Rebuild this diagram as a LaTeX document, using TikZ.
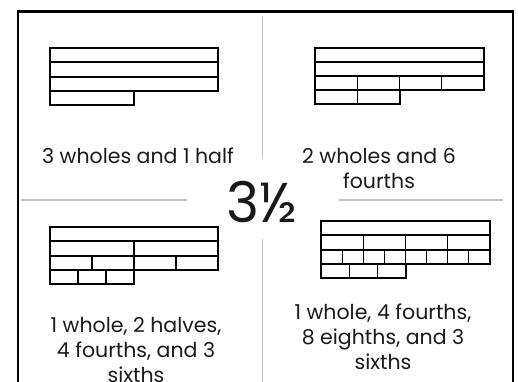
\documentclass[tikz,border=0pt]{standalone}
\usepackage{fontspec}
\setmainfont{Poppins}
\definecolor{txt}{HTML}{1A1A1A}
\definecolor{sep}{HTML}{C4C4C4}
\tikzset{
  barthick/.style={draw=black,line width=2pt},
  barthin/.style={draw=black,line width=1.2pt},
  sepline/.style={draw=sep,line width=1.4pt},
  frameline/.style={draw=black,line width=2.4pt},
  label/.style={inner sep=0pt,align=center,text=txt,font=\fontsize{20.5}{25}\selectfont},
}
% #1 x0, #2 ytop, #3 total width, #4 height, #5 parts, #6 cells drawn
\newcommand\fbrow[6]{%
  \pgfmathsetmacro\fbcw{#3/#5}%
  \foreach \fbi in {1,...,#6}{%
    \draw[barthin] ({#1+(\fbi-1)*\fbcw},#2) rectangle ++(\fbcw,#4);
  }%
  \draw[barthick] (#1,#2) rectangle ++({\fbcw*#6},#4);
}
\begin{document}
\begin{tikzpicture}[x=1pt,y=-1pt]
\useasboundingbox (0,0) rectangle (518,381);
\clip (0,0) rectangle (518,381);
% frame
\draw[frameline] (18,400) -- (18,11.5) -- (513,11.5) -- (513,400);
% separators
\draw[sepline] (262.5,16) -- (262.5,159);
\draw[sepline] (262.5,239) -- (262.5,400);
\draw[sepline] (21,200) -- (187,200);
\draw[sepline] (339,200) -- (503,200);
% top-left: 3 wholes and 1 half
\fbrow{50}{48}{168}{14.25}{1}{1}
\fbrow{50}{62.25}{168}{14.25}{1}{1}
\fbrow{50}{76.5}{168}{14.25}{1}{1}
\fbrow{50}{90.75}{168}{14.25}{2}{1}
% top-right: 2 wholes and 6 fourths
\fbrow{315}{47.5}{169}{14}{1}{1}
\fbrow{315}{61.5}{169}{14}{1}{1}
\fbrow{315}{75.5}{169}{14}{4}{4}
\fbrow{315}{89.5}{169}{14}{4}{2}
% bottom-left
\fbrow{50}{227}{168}{14.25}{1}{1}
\fbrow{50}{241.25}{168}{14.25}{2}{2}
\fbrow{50}{255.5}{168}{14.25}{4}{4}
\fbrow{50}{269.75}{168}{14.25}{6}{3}
% bottom-right
\fbrow{321}{221}{169}{14.25}{1}{1}
\fbrow{321}{235.25}{169}{14.25}{4}{4}
\fbrow{321}{249.5}{169}{14.25}{8}{8}
\fbrow{321}{263.75}{169}{14.25}{6}{3}
% labels (base anchor = baseline of last line)
\node[label,anchor=base] (tl) at (138,163) {3 wholes and 1 half};
\node[label,anchor=base] (tr) at (379,188) {2 wholes and 6\\fourths};
\node[label,anchor=base] (bl) at (136,382) {1 whole, 2 halves,\\4 fourths, and 3\\sixths};
\node[label,anchor=base] (br) at (383,369) {1 whole, 4 fourths,\\8 eighths, and 3\\sixths};
\node[inner sep=0pt,anchor=base,text=txt,font=\fontsize{56}{56}\selectfont] (mix) at (262,222) {3½};
\end{tikzpicture}
\end{document}
